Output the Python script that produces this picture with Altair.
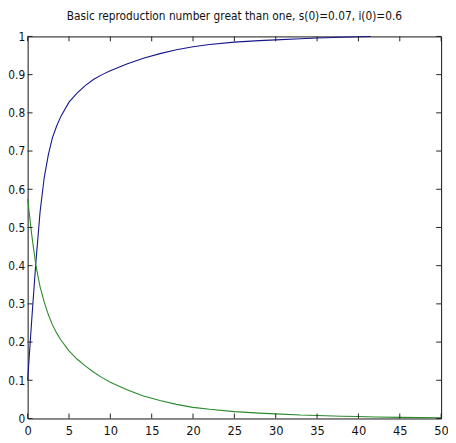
import altair as alt
import pandas as pd

# Blue curve (rising)
t_blue = [0, 0.5, 1, 1.5, 2, 2.5, 3, 3.5, 4, 5, 6, 7, 8, 9, 10, 12, 14, 16, 18, 20,
          22, 25, 28, 30, 33, 35, 38, 40, 41.5]
v_blue = [0.10, 0.26, 0.41, 0.54, 0.63, 0.69, 0.735, 0.765, 0.79, 0.828, 0.852, 0.872,
          0.888, 0.900, 0.910, 0.928, 0.943, 0.955, 0.965, 0.973, 0.979, 0.985, 0.989,
          0.991, 0.994, 0.996, 0.998, 0.999, 1.0]

# Green curve (decaying)
t_green = [0, 0.5, 1, 1.5, 2, 2.5, 3, 3.5, 4, 5, 6, 7, 8, 9, 10, 12, 14, 16, 18, 20,
           22, 25, 28, 30, 33, 35, 38, 40, 42, 45, 50]
v_green = [0.575, 0.48, 0.40, 0.345, 0.305, 0.272, 0.245, 0.224, 0.206, 0.177, 0.155,
           0.137, 0.121, 0.107, 0.095, 0.075, 0.059, 0.047, 0.037, 0.029, 0.024, 0.018,
           0.014, 0.012, 0.009, 0.008, 0.006, 0.005, 0.004, 0.003, 0.002]

x_ticks = [0, 5, 10, 15, 20, 25, 30, 35, 40, 45, 50]
y_ticks = [0, 0.1, 0.2, 0.3, 0.4, 0.5, 0.6, 0.7, 0.8, 0.9, 1]

TITLE = "Basic reproduction number great than one, s(0)=0.07, i(0)=0.6"
FONT = "DejaVu Sans Condensed, Liberation Sans"
W, H = 421, 389
TL = 5

df_blue = pd.DataFrame({"t": t_blue, "v": v_blue})
df_green = pd.DataFrame({"t": t_green, "v": v_green})
df_xt = pd.DataFrame({"t": x_ticks})
df_yt = pd.DataFrame({"v": y_ticks})

xs = alt.Scale(domain=[0, 50], nice=False, zero=False)
ys = alt.Scale(domain=[0, 1], nice=False, zero=False)

x_axis = alt.Axis(values=x_ticks, domain=False, ticks=False, grid=False,
                  labelPadding=6, labelFont=FONT, labelFontSize=13,
                  labelColor="#111111", title=None, labelFlush=False)
y_axis = alt.Axis(values=y_ticks, domain=False, ticks=False, grid=False,
                  labelPadding=3, labelFont=FONT, labelFontSize=12,
                  labelColor="#111111", title=None, format="~g")

X = alt.X("t:Q", scale=xs, axis=x_axis)
Y = alt.Y("v:Q", scale=ys, axis=y_axis)

blue = alt.Chart(df_blue).mark_line(color="#15158c", strokeWidth=1.1).encode(x=X, y=Y)
green = alt.Chart(df_green).mark_line(color="#2b8a2b", strokeWidth=1.1).encode(x=X, y=Y)

tick_color = "#222222"
xt_bottom = alt.Chart(df_xt).mark_rule(color=tick_color, strokeWidth=1).encode(
    x=X, y=alt.value(H - TL), y2=alt.value(H))
xt_top = alt.Chart(df_xt).mark_rule(color=tick_color, strokeWidth=1).encode(
    x=X, y=alt.value(0), y2=alt.value(TL))
yt_left = alt.Chart(df_yt).mark_rule(color=tick_color, strokeWidth=1).encode(
    y=Y, x=alt.value(0), x2=alt.value(TL))
yt_right = alt.Chart(df_yt).mark_rule(color=tick_color, strokeWidth=1).encode(
    y=Y, x=alt.value(W - TL), x2=alt.value(W))

chart = alt.layer(blue, green, xt_bottom, xt_top, yt_left, yt_right).properties(
    width=W, height=H,
    title=alt.TitleParams(TITLE, font=FONT, fontSize=12, fontWeight="normal",
                          color="#111111", offset=8, anchor="middle"),
    autosize=alt.AutoSizeParams(type="none"),
    padding={"left": 20, "top": 25, "right": 7, "bottom": 20},
    background="white",
).configure_view(stroke="#111111", strokeWidth=1)

chart.save("out.html", embed_options={"renderer": "svg", "actions": False})
